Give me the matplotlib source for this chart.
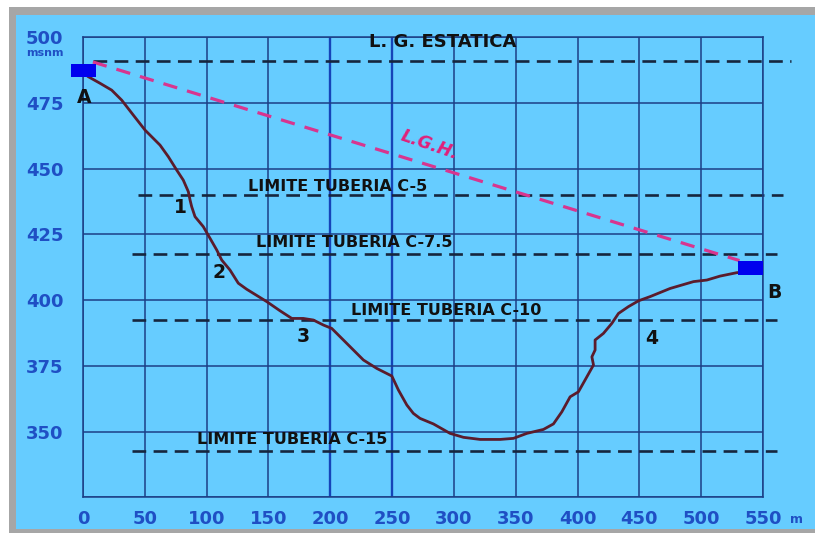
import numpy as np
import matplotlib.pyplot as plt
from matplotlib.patches import Rectangle

# terrain profile (m, msnm)
dist = [0, 4.3, 13.8, 23.2, 31.3, 40.7, 50.2, 62.3, 69.0, 75.8, 81.1, 85.2, 86.6, 87.9,
        90.6, 97.3, 102.7, 108.2, 112.2, 118.9, 125.6, 132.4, 148.6, 159.4, 168.9, 178.2,
        186.3, 194.4, 201.2, 210.6, 218.7, 226.8, 237.6, 249.8, 255.1, 261.9, 267.2, 272.6,
        283.4, 296.9, 307.7, 321.2, 337.4, 348.1, 359.0, 372.4, 380.5, 387.3, 394.0, 400.7,
        406.1, 412.9, 411.6, 414.2, 414.2, 420.9, 427.7, 433.1, 441.2, 449.3, 458.7, 474.9,
        493.8, 504.6, 515.3, 528.8, 531]
elev = [486.5, 484.9, 482.4, 479.8, 476.0, 470.3, 464.6, 458.9, 454.5, 449.4, 445.6, 441.2,
        438.0, 435.5, 431.7, 427.9, 423.5, 419.0, 415.2, 411.4, 406.4, 404.1, 399.4, 395.9,
        393.0, 393.0, 392.4, 390.5, 389.2, 384.8, 381.0, 377.2, 374.0, 371.1, 365.8, 360.1,
        356.9, 355.0, 352.9, 349.3, 347.8, 347.0, 347.0, 347.4, 349.3, 350.8, 352.9, 357.5,
        363.2, 365.1, 369.6, 375.3, 378.4, 381.0, 384.8, 387.3, 391.1, 394.9, 397.5, 399.7,
        401.3, 404.4, 407.0, 407.6, 409.1, 410.4, 410.5]

# horizontal reference lines
lim_y = [490.8, 440, 417.4, 392.3, 342.5]
lim_x0 = [8, 44.5, 39.5, 39.5, 39.5]
lim_x1 = [573, 566, 561, 561, 561]
lim_text = ['L. G. ESTATICA', 'LIMITE TUBERIA C-5', 'LIMITE TUBERIA C-7.5',
            'LIMITE TUBERIA C-10', 'LIMITE TUBERIA C-15']
lim_tx = [291, 206, 219, 294, 169]
lim_ty = [498, 443.3, 421.7, 396, 346.8]

lgh_x = [8, 531]
lgh_y = [490.5, 415]

pts = ['1', '2', '3', '4', 'A', 'B']
pts_x = [78.5, 110, 178, 460, 0.8, 559]
pts_y = [435, 410.6, 386, 385.5, 477, 402.7]

xticks = np.arange(0, 551, 50)
yticks = np.arange(350, 501, 25)

bg = '#66ccff'
navy = '#1c3f86'
tickblue = '#1f4fc4'

fig = plt.figure(figsize=(8.15, 5.33), dpi=100, facecolor='white')
# grey frame with light blue panel
fig.patches.append(Rectangle((9 / 815, 0), 1, 1 - 7 / 533, transform=fig.transFigure,
                             facecolor='#a6a6a6', edgecolor='none', zorder=-2))
fig.patches.append(Rectangle((16 / 815, 4 / 533), 1, 1 - 15 / 533 - 4 / 533,
                             transform=fig.transFigure, facecolor=bg, edgecolor='none',
                             zorder=-1))

ax = fig.add_axes([83 / 815, 1 - 497.3 / 533, 680 / 815, 460.3 / 533])
ax.set_facecolor(bg)
ax.set_xlim(0, 550)
ax.set_ylim(325, 500)

for x in xticks:
    if x in (200, 250):
        ax.axvline(x, color='#1544b8', lw=1.7, zorder=1)
    else:
        ax.axvline(x, color=navy, lw=1.1, zorder=1)
for y in list(yticks) + [325]:
    ax.axhline(y, color=navy, lw=1.1, zorder=1)
for s in ax.spines.values():
    s.set_color(navy)
    s.set_linewidth(1.1)

ax.set_xticks(xticks)
ax.set_yticks(yticks)
ax.tick_params(length=0, labelcolor=tickblue, labelsize=13)
ax.tick_params(axis='y', pad=14)
ax.tick_params(axis='x', pad=9)
for lab in ax.get_xticklabels() + ax.get_yticklabels():
    lab.set_fontweight('bold')

for y, x0, x1 in zip(lim_y, lim_x0, lim_x1):
    ax.plot([x0, x1], [y, y], color='#16263e', lw=1.9, dashes=(5.2, 2.8),
            clip_on=False, zorder=2)
for i, (t, tx, ty) in enumerate(zip(lim_text, lim_tx, lim_ty)):
    ax.text(tx, ty, t, ha='center', va='center', fontsize=13 if i == 0 else 11.5,
            fontweight='bold', color='#111111', zorder=5)

ax.plot(lgh_x, lgh_y, color='#d8358f', lw=2.3, dashes=(4.5, 3.2), clip_on=False, zorder=3)
ax.text(280, 459, 'L.G.H.', ha='center', va='center', rotation=-19, fontsize=12.5,
        fontweight='bold', fontstyle='italic', color='#e0207a', zorder=5)

ax.plot(dist, elev, color='#5b1c2c', lw=2, zorder=4, solid_capstyle='round')

ax.add_patch(Rectangle((-9.7, 484.7), 20.2, 4.9, facecolor='#0000ee', edgecolor='none',
                       clip_on=False, zorder=6))
ax.add_patch(Rectangle((530, 409.5), 20, 5.3, facecolor='#0000ee', edgecolor='none',
                       clip_on=False, zorder=6))

for t, px, py in zip(pts, pts_x, pts_y):
    ax.text(px, py, t, ha='center', va='center', fontsize=13.5, fontweight='bold',
            color='#111111', zorder=5)

ax.text(-31, 493.8, 'msnm', ha='center', va='center', fontsize=8, fontweight='bold',
        color=tickblue, clip_on=False)
ax.text(577.5, 316.5, 'm', ha='center', va='center', fontsize=9, fontweight='bold',
        color=tickblue, clip_on=False)

fig.savefig('out.png', dpi=100, facecolor=fig.get_facecolor())
